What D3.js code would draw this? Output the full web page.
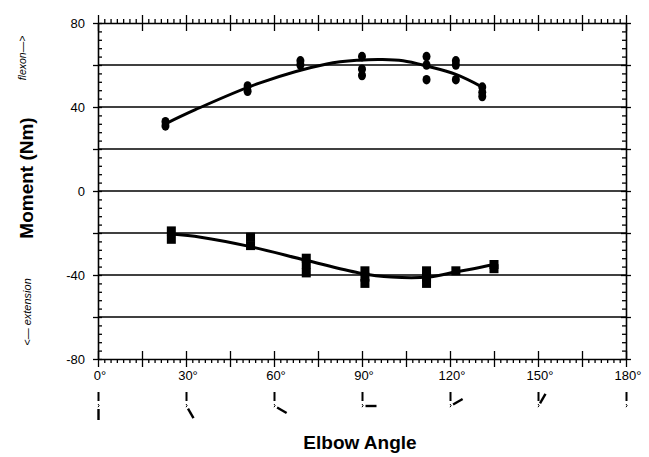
<!DOCTYPE html>
<html>
<head>
<meta charset="utf-8">
<script src="https://cdn.jsdelivr.net/npm/d3@7"></script>
<style>
  body { margin: 0; background: #fff; }
  svg { display: block; font-family: "Liberation Sans", Arial, sans-serif; }
</style>
</head>
<body>
<div id="chart"></div>
<script>
// angle labels on the x axis, and the moment ticks on the y axis
const angleLabels = [0, 30, 60, 90, 120, 150, 180];
const angleMajor = [0, 15, 30, 45, 60, 75, 90, 105, 120, 135, 150, 165, 180];
const momentLabels = [80, 40, 0, -40, -80];
const momentGrid = [60, 40, 20, 0, -20, -40, -60];

// flexion measurements (circles)
const flexAngle = [23, 23, 51, 51, 69, 69, 90, 90, 90, 112, 112, 112, 122, 122, 122, 131, 131, 131];
const flexMoment = [31, 33, 47.5, 50, 60, 62, 64, 58, 55, 64, 60, 53, 62, 60, 53, 49.5, 47, 45];
// extension measurements (squares)
const extAngle = [25, 25, 52, 52, 71, 71, 71, 91, 91, 91, 112, 112, 112, 122, 135, 135];
const extMoment = [-19, -23, -22, -26, -32, -35, -39, -38, -41, -44, -38, -41, -44, -38, -35, -37];

// fitted curves
const flexFitAngle = [23, 33, 55, 78, 89, 97, 104, 112, 122, 131];
const flexFitMoment = [32, 38.6, 51.4, 60.5, 62.3, 62.6, 62, 59.5, 55.5, 49.5];
const extFitAngle = [25, 35, 52, 71, 89, 100, 112.5, 122, 128, 135];
const extFitMoment = [-20.5, -22, -26.5, -33, -39, -41, -41, -38.5, -37, -35];

const width = 649, height = 457;
const margin = { top: 23, right: 23, bottom: 98, left: 98 };

const svg = d3.select("#chart").append("svg")
  .attr("width", width)
  .attr("height", height);

const x = d3.scaleLinear().domain([0, 180]).range([margin.left, width - margin.right]);
const y = d3.scaleLinear().domain([-80, 80]).range([height - margin.bottom, margin.top]);

// minor ticks: 7 steps per 15 degrees, 4 units on the moment axis
const angleMinor = d3.range(0, 180, 15 / 7).filter(d => Math.abs(d / 15 - Math.round(d / 15)) > 0.01);
const momentMinor = d3.range(-80, 80, 4).filter(d => d % 20 !== 0);

// grid lines
svg.append("g").selectAll("line").data(momentGrid).enter().append("line")
  .attr("x1", x(0)).attr("x2", x(180))
  .attr("y1", d => y(d)).attr("y2", d => y(d))
  .attr("stroke", "#000").attr("stroke-width", 1.4);

// frame + ticks
function styleAxis(g) {
  g.select(".domain").attr("stroke", "#000").attr("stroke-width", 1.6);
  g.selectAll(".tick line").attr("stroke", "#000").attr("stroke-width", 1.3);
}

// bottom
const bottomMinor = svg.append("g").attr("transform", `translate(0,${y(-80)})`)
  .call(d3.axisBottom(x).tickValues(angleMinor).tickSize(4).tickSizeOuter(0).tickFormat(""));
styleAxis(bottomMinor);
const bottomMajor = svg.append("g").attr("transform", `translate(0,${y(-80)})`)
  .call(d3.axisBottom(x).tickValues(angleMajor).tickSize(8).tickSizeOuter(0).tickFormat(""));
styleAxis(bottomMajor);
bottomMajor.selectAll(".tick line").attr("y1", -8);
bottomMajor.select(".domain").remove();

// top
const topMinor = svg.append("g").attr("transform", `translate(0,${y(80)})`)
  .call(d3.axisTop(x).tickValues(angleMinor).tickSize(4).tickSizeOuter(0).tickFormat(""));
styleAxis(topMinor);
const topMajor = svg.append("g").attr("transform", `translate(0,${y(80)})`)
  .call(d3.axisTop(x).tickValues(angleMajor).tickSize(8).tickSizeOuter(0).tickFormat(""));
styleAxis(topMajor);
topMajor.selectAll(".tick line").attr("y1", 8);
topMajor.select(".domain").remove();

// left
const leftMinor = svg.append("g").attr("transform", `translate(${x(0)},0)`)
  .call(d3.axisRight(y).tickValues(momentMinor).tickSize(4).tickSizeOuter(0).tickFormat(""));
styleAxis(leftMinor);
const leftMajor = svg.append("g").attr("transform", `translate(${x(0)},0)`)
  .call(d3.axisLeft(y).tickValues(momentLabels.concat([60, 20, -20, -60])).tickSize(5).tickSizeOuter(0).tickFormat(""));
styleAxis(leftMajor);
leftMajor.selectAll(".tick line").attr("x1", 4);
leftMajor.select(".domain").remove();

// right
const rightMinor = svg.append("g").attr("transform", `translate(${x(180)},0)`)
  .call(d3.axisLeft(y).tickValues(momentMinor).tickSize(4).tickSizeOuter(0).tickFormat(""));
styleAxis(rightMinor);
const rightMajor = svg.append("g").attr("transform", `translate(${x(180)},0)`)
  .call(d3.axisRight(y).tickValues(momentLabels.concat([60, 20, -20, -60])).tickSize(5).tickSizeOuter(0).tickFormat(""));
styleAxis(rightMajor);
rightMajor.selectAll(".tick line").attr("x1", -5);
rightMajor.select(".domain").remove();

// tick labels
svg.append("g").selectAll("text").data(momentLabels).enter().append("text")
  .attr("x", x(0) - 13).attr("y", d => y(d) + 5)
  .attr("text-anchor", "end").attr("font-size", 13)
  .text(d => d);

svg.append("g").selectAll("text").data(angleLabels).enter().append("text")
  .attr("x", d => x(d) + 2).attr("y", y(-80) + 21)
  .attr("text-anchor", "middle").attr("font-size", 13)
  .text(d => d + "\u00b0");

// little arm pictograms under each angle label
const arms = svg.append("g").attr("stroke", "#000").attr("fill", "none");
angleLabels.forEach(a => {
  const cx = x(a) + 0.5;
  const ey = y(-80) + 47;
  const r = a * Math.PI / 180;
  arms.append("line")
    .attr("x1", cx).attr("x2", cx)
    .attr("y1", ey - 14).attr("y2", ey - 5)
    .attr("stroke-width", 2);
  arms.append("path")
    .attr("d", `M${cx - 0.5},${ey - 2} q2.2,1.5 0,3.2`)
    .attr("stroke-width", 1);
  if (a < 180) {
    arms.append("line")
      .attr("x1", cx + Math.sin(r) * 3).attr("y1", ey + Math.cos(r) * 3)
      .attr("x2", cx + Math.sin(r) * 14).attr("y2", ey + Math.cos(r) * 14)
      .attr("stroke-width", 2.4);
  }
});

// fitted curves
const line = d3.line().curve(d3.curveCatmullRom.alpha(0.5)).x(d => x(d[0])).y(d => y(d[1]));
svg.append("path")
  .datum(d3.zip(flexFitAngle, flexFitMoment))
  .attr("d", line).attr("fill", "none").attr("stroke", "#000").attr("stroke-width", 3);
svg.append("path")
  .datum(d3.zip(extFitAngle, extFitMoment))
  .attr("d", line).attr("fill", "none").attr("stroke", "#000").attr("stroke-width", 3);

// data marks
svg.append("g").selectAll("ellipse").data(d3.zip(flexAngle, flexMoment)).enter().append("ellipse")
  .attr("cx", d => x(d[0])).attr("cy", d => y(d[1]))
  .attr("rx", 4).attr("ry", 4.8).attr("fill", "#000");

svg.append("g").selectAll("rect").data(d3.zip(extAngle, extMoment)).enter().append("rect")
  .attr("x", d => x(d[0]) - 4.5).attr("y", d => y(d[1]) - 4.5)
  .attr("width", 9).attr("height", 9).attr("fill", "#000");

// axis titles
svg.append("text")
  .attr("transform", `translate(33,178) rotate(-90)`)
  .attr("text-anchor", "middle").attr("font-size", 19).attr("font-weight", "bold")
  .text("Moment (Nm)");
svg.append("text")
  .attr("transform", `translate(26,58) rotate(-90)`)
  .attr("text-anchor", "middle").attr("font-size", 10.5).attr("font-style", "italic")
  .text("flexon\u2014>");
svg.append("text")
  .attr("transform", `translate(31,312) rotate(-90)`)
  .attr("text-anchor", "middle").attr("font-size", 11).attr("font-style", "italic")
  .text("<\u2014 extension");
svg.append("text")
  .attr("x", 360).attr("y", 449)
  .attr("text-anchor", "middle").attr("font-size", 19).attr("font-weight", "bold")
  .text("Elbow Angle");
</script>
</body>
</html>
